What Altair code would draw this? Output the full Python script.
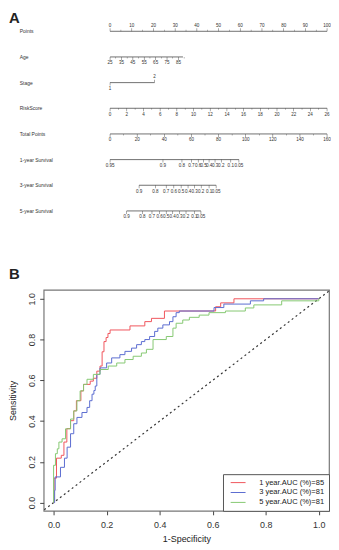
import altair as alt
import pandas as pd

FONT = "Liberation Sans"

# ---------------- Panel A : nomogram ----------------
row_names = ["Points", "Age", "Stage", "RiskScore", "Total Points",
             "1-year Survival", "3-year Survival", "5-year Survival"]

points_ticks = [0, 10, 20, 30, 40, 50, 60, 70, 80, 90, 100]
age_ticks = [25, 35, 45, 55, 65, 75, 85]
age_range = [25, 89]
age_points_at = [0.0, 31.5]          # points for age 25 and age 85
stage_levels = ["1", "2"]
stage_points = [0.0, 20.5]
risk_ticks = [0, 2, 4, 6, 8, 10, 12, 14, 16, 18, 20, 22, 24, 26]
risk_max = 26
total_ticks = [0, 20, 40, 60, 80, 100, 120, 140, 160]
total_max = 160

surv1_labels = ["0.95", "0.9", "0.8", "0.7", "0.6", "0.5", "0.4", "0.3", "0.2", "0.1", "0.05"]
surv1_total = [0, 39, 53, 60, 65, 69, 73, 77.4, 82, 89, 95]
surv3_labels = ["0.9", "0.8", "0.7", "0.6", "0.5", "0.4", "0.3", "0.2", "0.1", "0.05"]
surv3_total = [21.4, 33.4, 41.4, 47, 52.4, 57.5, 62.3, 67.2, 73, 78.2]
surv5_labels = ["0.9", "0.8", "0.7", "0.6", "0.5", "0.4", "0.3", "0.2", "0.1", "0.05"]
surv5_total = [12.2, 23.9, 30.9, 36.5, 41.4, 46.2, 51.1, 56, 62.1, 67]


def age_pts(a):
    return (a - 25) * (age_points_at[1] - age_points_at[0]) / 60.0


def tot_pts(t):
    return t * 100.0 / total_max


lines, ticks, labs = [], [], []


def add_row(r, xs, texts, side, lo=None, hi=None, minor=None):
    lo = min(xs) if lo is None else lo
    hi = max(xs) if hi is None else hi
    lines.append({"row": r, "x": lo, "x2": hi})
    for x, t in zip(xs, texts):
        ticks.append({"row": r, "x": x, "side": side, "kind": "major"})
        labs.append({"row": r, "x": x, "text": t, "side": side})
    for x in (minor or []):
        ticks.append({"row": r, "x": x, "side": side, "kind": "minor"})


add_row(0, points_ticks, [str(v) for v in points_ticks], "up",
        minor=[v + 5 for v in points_ticks[:-1]])
add_row(1, [age_pts(a) for a in age_ticks], [str(a) for a in age_ticks], "down",
        lo=age_pts(age_range[0]), hi=age_pts(age_range[1]),
        minor=[age_pts(a + 5) for a in age_ticks])
lines.append({"row": 2, "x": stage_points[0], "x2": stage_points[1]})
ticks.append({"row": 2, "x": stage_points[0], "side": "down", "kind": "major"})
ticks.append({"row": 2, "x": stage_points[1], "side": "up", "kind": "major"})
labs.append({"row": 2, "x": stage_points[0], "text": stage_levels[0], "side": "down"})
labs.append({"row": 2, "x": stage_points[1], "text": stage_levels[1], "side": "up"})
add_row(3, [v * 100.0 / risk_max for v in risk_ticks], [str(v) for v in risk_ticks], "down",
        minor=[(v + 1) * 100.0 / risk_max for v in risk_ticks[:-1]])
add_row(4, [tot_pts(v) for v in total_ticks], [str(v) for v in total_ticks], "down",
        minor=[tot_pts(v + 10) for v in total_ticks[:-1]])
add_row(5, [tot_pts(v) for v in surv1_total], surv1_labels, "down")
add_row(6, [tot_pts(v) for v in surv3_total], surv3_labels, "down")
add_row(7, [tot_pts(v) for v in surv5_total], surv5_labels, "down")

lines_df = pd.DataFrame(lines)
ticks_df = pd.DataFrame(ticks)
labs_df = pd.DataFrame(labs)
names_df = pd.DataFrame({"row": list(range(len(row_names))), "name": row_names,
                         "x": [-41.6] * len(row_names)})

xA = alt.X("x:Q", scale=alt.Scale(domain=[-30.6, 100.9], nice=False, zero=False), axis=None)
yA = alt.Y("row:Q", scale=alt.Scale(domain=[-0.116, 7.606], nice=False, zero=False, reverse=True), axis=None)
INK = "#333333"

a_lines = alt.Chart(lines_df).mark_rule(color=INK, strokeWidth=0.7).encode(x=xA, x2="x2:Q", y=yA)
a_up = alt.Chart(ticks_df[(ticks_df.side == "up") & (ticks_df.kind == "major")]).mark_tick(
    orient="vertical", color=INK, size=3, thickness=0.6, yOffset=-1.5).encode(x=xA, y=yA)
a_dn = alt.Chart(ticks_df[(ticks_df.side == "down") & (ticks_df.kind == "major")]).mark_tick(
    orient="vertical", color=INK, size=3, thickness=0.6, yOffset=1.5).encode(x=xA, y=yA)
a_mup = alt.Chart(ticks_df[(ticks_df.side == "up") & (ticks_df.kind == "minor")]).mark_tick(
    orient="vertical", color=INK, size=1.6, thickness=0.5, yOffset=-0.8).encode(x=xA, y=yA)
a_mdn = alt.Chart(ticks_df[(ticks_df.side == "down") & (ticks_df.kind == "minor")]).mark_tick(
    orient="vertical", color=INK, size=1.6, thickness=0.5, yOffset=0.8).encode(x=xA, y=yA)
a_lab_up = alt.Chart(labs_df[labs_df.side == "up"]).mark_text(
    font=FONT, fontSize=4.6, color=INK, baseline="bottom", dy=-3.5).encode(x=xA, y=yA, text="text:N")
a_lab_dn = alt.Chart(labs_df[labs_df.side == "down"]).mark_text(
    font=FONT, fontSize=4.6, color=INK, baseline="top", dy=3.5).encode(x=xA, y=yA, text="text:N")
a_names = alt.Chart(names_df).mark_text(
    font=FONT, fontSize=5, color=INK, align="left", baseline="middle").encode(x=xA, y=yA, text="name:N")

panelA = alt.layer(a_lines, a_up, a_dn, a_mup, a_mdn, a_lab_up, a_lab_dn, a_names).properties(
    width=288, height=200,
    view=alt.ViewBackground(stroke=None),
    title=alt.TitleParams("A", anchor="start", frame="group", dx=-35, fontSize=15,
                          fontWeight="bold", font=FONT, color="#222", offset=-3),
)

# ---------------- Panel B : ROC curves ----------------
legend_labels = ["1 year.AUC (%)=85", "3 year.AUC (%)=81", "5 year.AUC (%)=81"]
curve_colors = ["#F0555C", "#5B6CD0", "#86C872"]

red_fpr = [0, 0.002, 0.011, 0.029, 0.039, 0.05, 0.064, 0.076, 0.086, 0.103, 0.113, 0.138, 0.15,
           0.163, 0.175, 0.183, 0.19, 0.198, 0.205, 0.213, 0.288, 0.344, 0.369, 0.418, 0.611,
           0.63, 0.68, 1.0]
red_tpr = [0, 0.12, 0.218, 0.232, 0.297, 0.363, 0.402, 0.45, 0.5, 0.548, 0.58, 0.596, 0.61,
           0.645, 0.67, 0.74, 0.79, 0.81, 0.83, 0.847, 0.867, 0.888, 0.904, 0.94, 0.961,
           0.98, 1.0, 1.0]

blue_fpr = [0, 0.004, 0.006, 0.026, 0.041, 0.051, 0.064, 0.076, 0.088, 0.107, 0.126, 0.136,
            0.145, 0.152, 0.157, 0.163, 0.175, 0.2, 0.219, 0.25, 0.269, 0.294, 0.313, 0.331,
            0.344, 0.362, 0.381, 0.393, 0.412, 0.437, 0.45, 0.462, 0.474, 0.605, 0.642,
            0.742, 0.792, 1.0]
blue_tpr = [0, 0.06, 0.126, 0.173, 0.218, 0.272, 0.338, 0.387, 0.418, 0.442, 0.467, 0.5,
            0.532, 0.55, 0.572, 0.629, 0.661, 0.685, 0.71, 0.726, 0.742, 0.758, 0.775, 0.79,
            0.8, 0.815, 0.84, 0.856, 0.872, 0.888, 0.912, 0.932, 0.94, 0.957, 0.974,
            0.99, 1.0, 1.0]

green_fpr = [0, 0.0, 0.007, 0.014, 0.02, 0.032, 0.045, 0.064, 0.076, 0.088, 0.1, 0.113, 0.126,
             0.15, 0.175, 0.206, 0.238, 0.269, 0.3, 0.331, 0.35, 0.375, 0.425, 0.45, 0.462,
             0.487, 0.512, 0.549, 0.586, 0.648, 0.723, 0.755, 0.86, 1.0, 1.0]
green_tpr = [0, 0.183, 0.24, 0.264, 0.297, 0.313, 0.362, 0.41, 0.45, 0.5, 0.548, 0.58, 0.605,
             0.629, 0.653, 0.67, 0.685, 0.702, 0.718, 0.734, 0.752, 0.8, 0.815, 0.856, 0.88,
             0.896, 0.909, 0.92, 0.932, 0.94, 0.955, 0.97, 0.99, 0.99, 1.0]

roc_rows = []
for lab, fx, ty in zip(legend_labels, [red_fpr, blue_fpr, green_fpr], [red_tpr, blue_tpr, green_tpr]):
    for i, (a, b) in enumerate(zip(fx, ty)):
        roc_rows.append({"curve": lab, "fpr": a, "tpr": b, "i": i})
roc_df = pd.DataFrame(roc_rows)

diag_df = pd.DataFrame({"fpr": [-0.05, 1.05], "tpr": [-0.05, 1.05]})
axis_vals = [0, 0.2, 0.4, 0.6, 0.8, 1.0]

xB = alt.X("fpr:Q", title="1-Specificity",
           scale=alt.Scale(domain=[-0.0374, 1.0385], nice=False, zero=False),
           axis=alt.Axis(values=axis_vals, format=".1f", grid=False, domain=False,
                         tickColor="#444", tickSize=4, labelPadding=6, labelFontSize=9,
                         labelColor="#333", labelFont=FONT, titleFont=FONT, titleFontSize=9,
                         titleFontWeight="normal", titleColor="#222", titlePadding=5))
yB = alt.Y("tpr:Q", title="Sensitivity",
           scale=alt.Scale(domain=[-0.0404, 1.0437], nice=False, zero=False),
           axis=alt.Axis(values=axis_vals, format=".1f", grid=False, domain=False,
                         tickColor="#444", tickSize=4, labelPadding=3, labelFontSize=9,
                         labelAngle=270, labelAlign="center", labelBaseline="bottom",
                         labelColor="#333", labelFont=FONT, titleFont=FONT, titleFontSize=9,
                         titleFontWeight="normal", titleColor="#222", titlePadding=10))

b_diag = alt.Chart(diag_df).mark_line(color="#333", strokeDash=[2, 3], strokeWidth=1.2,
                                      clip=True).encode(x=xB, y=yB)
b_roc = alt.Chart(roc_df).mark_line(interpolate="step-after", strokeWidth=1).encode(
    x=xB, y=yB, order="i:Q",
    color=alt.Color("curve:N",
                    scale=alt.Scale(domain=legend_labels, range=curve_colors),
                    legend=alt.Legend(title=None, orient="bottom-right", offset=0,
                                      symbolType="M-0.2,0L3.81,0", symbolSize=56,
                                      symbolStrokeWidth=1,
                                      labelFont=FONT, labelFontSize=7.6, labelColor="#222",
                                      labelOffset=23.5, rowPadding=1, padding=4,
                                      strokeColor="#555", fillColor="white",
                                      labelLimit=200)))

panelB = alt.layer(b_diag, b_roc).properties(
    width=288, height=223,
    view=alt.ViewBackground(stroke="#777", strokeWidth=1.2),
    title=alt.TitleParams("B", anchor="start", frame="group", dx=-35, fontSize=15,
                          fontWeight="bold", font=FONT, color="#222", offset=8),
)

chart = (alt.vconcat(panelA, panelB, spacing=40)
         .resolve_legend(color="independent")
         .resolve_scale(color="independent")
         .properties(padding=0)
         .configure_view(strokeWidth=1))
chart.save("out.html", embed_options={"renderer": "svg", "actions": False})
